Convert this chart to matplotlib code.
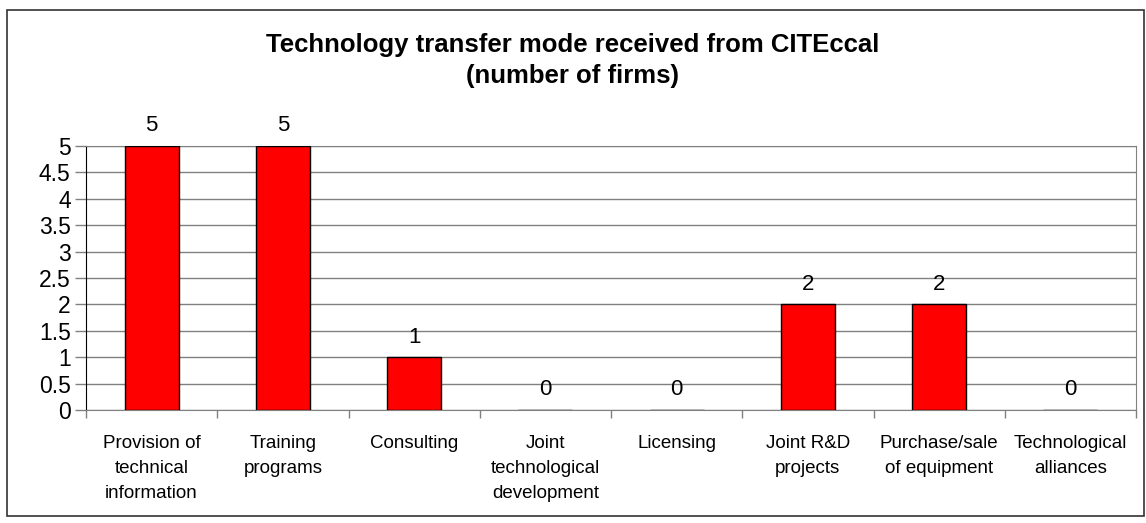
import matplotlib
matplotlib.use("Agg")
import matplotlib.pyplot as plt
from matplotlib.patches import Rectangle
import numpy as np

categories = [
    "Provision of\ntechnical\ninformation",
    "Training\nprograms",
    "Consulting",
    "Joint\ntechnological\ndevelopment",
    "Licensing",
    "Joint R&D\nprojects",
    "Purchase/sale\nof equipment",
    "Technological\nalliances",
]
firms = [5, 5, 1, 0, 0, 2, 2, 0]
y_ticks = [0, 0.5, 1, 1.5, 2, 2.5, 3, 3.5, 4, 4.5, 5]
y_tick_labels = ["0", "0.5", "1", "1.5", "2", "2.5", "3", "3.5", "4", "4.5", "5"]

plt.rcParams["font.family"] = ["Liberation Sans", "DejaVu Sans"]

W, H = 1146, 523
fig = plt.figure(figsize=(W / 100, H / 100), dpi=100)

# outer chart border
fig.patches.append(Rectangle((7 / W, 1 - 516 / H), (1144 - 7) / W, (516 - 10) / H,
                             transform=fig.transFigure, fill=False,
                             edgecolor="#333333", linewidth=1.2))

left, right, top, bottom = 86, 1136, 146, 410
ax = fig.add_axes([left / W, 1 - bottom / H, (right - left) / W, (bottom - top) / H])

x = np.arange(len(categories))
ax.bar(x, firms, width=0.41, color="#ff0000", edgecolor="black", linewidth=1.0, zorder=3)

for xi, v in zip(x, firms):
    ax.text(xi, v + 0.18, str(v), ha="center", va="bottom", fontsize=16)

ax.set_xlim(-0.5, len(categories) - 0.5)
ax.set_ylim(0, 5)
ax.set_yticks(y_ticks)
ax.set_yticklabels(y_tick_labels, fontsize=16.5)
ax.yaxis.grid(True, color="#808080", linewidth=1.0, zorder=0)

# x ticks at category boundaries, labels centred under categories
ax.set_xticks(np.arange(-0.5, len(categories), 1.0))
ax.set_xticklabels([])
ax.set_xticks(x, minor=True)
ax.set_xticklabels(categories, minor=True, fontsize=13.5, linespacing=1.6, va="top")
ax.tick_params(axis="x", which="minor", length=0, pad=18)
ax.tick_params(axis="x", which="major", length=6, color="#808080", width=1)
ax.tick_params(axis="y", length=8, color="#808080", width=1, pad=3)

for s in ["top", "right"]:
    ax.spines[s].set_color("#808080")
ax.spines["bottom"].set_color("#808080")
ax.spines["left"].set_color("black")

fig.text(0.5, 1 - 45 / H, "Technology transfer mode received from CITEccal",
         ha="center", va="center", fontsize=18.5, fontweight="bold")
fig.text(0.5, 1 - 76 / H, "(number of firms)",
         ha="center", va="center", fontsize=18.5, fontweight="bold")

fig.savefig("out.png", dpi=100)
